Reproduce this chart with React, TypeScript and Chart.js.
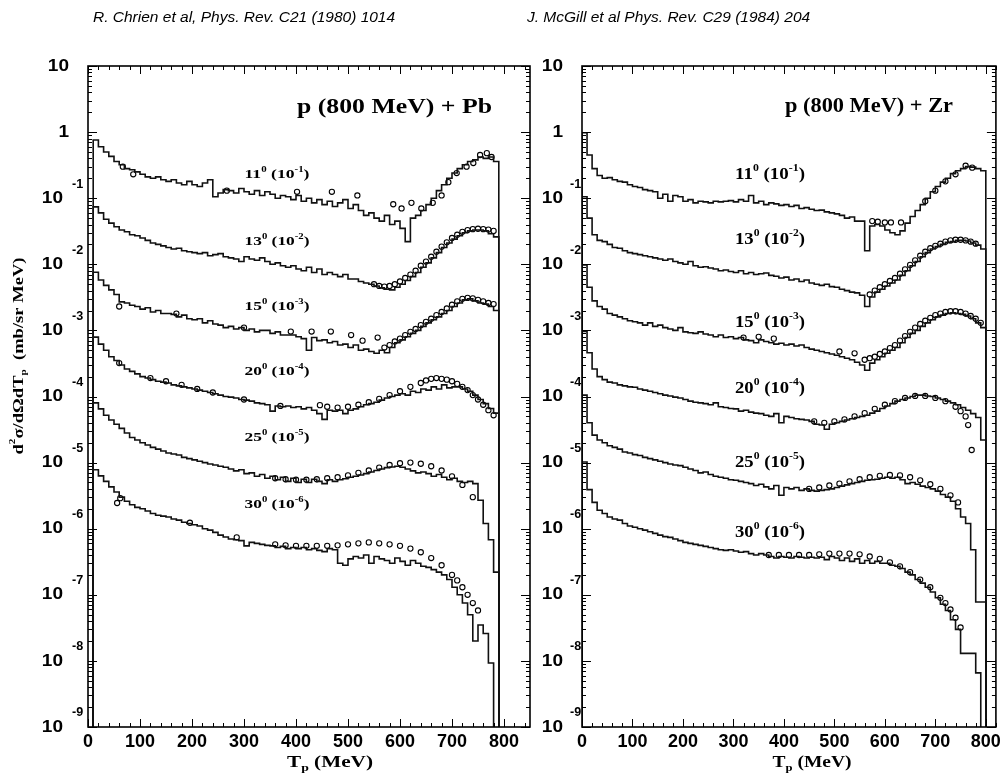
import React, { useEffect, useRef } from "react";
import { Chart, registerables } from "chart.js";
Chart.register(...registerables);

// ---------- data ----------
const ANGLES = ["11", "13", "15", "20", "25", "30"];
const SCALE_EXP = [-1, -2, -3, -4, -5, -6];
const X_MAJOR = [0, 100, 200, 300, 400, 500, 600, 700, 800];
const Y_DECADES = [1, 0, -1, -2, -3, -4, -5, -6, -7, -8, -9];
const BIN_WIDTH = 10;
const FLOOR = 1e-12;

// Pb histograms (unscaled, bins of 10 MeV starting at 10 MeV)
const PB_START = 10;
const PB_11 = [7.6, 6.0, 5.0, 4.3, 3.6, 3.2, 2.8, 2.7, 2.5, 2.3,
  2.1, 2.0, 2.1, 1.9, 1.8, 1.9, 1.7, 1.6, 1.8, 1.6,
  1.5, 1.7, 1.9, 1.05, 1.2, 1.35, 1.3, 1.2, 1.4, 1.25,
  1.15, 1.3, 1.1, 1.25, 1.15, 1.0, 1.1, 1.05, 0.95, 1.1,
  0.9, 1.0, 0.85, 0.95, 0.8, 0.9, 0.75, 0.85, 0.95, 0.7,
  0.8, 0.65, 0.55, 0.6, 0.5, 0.45, 0.55, 0.4, 0.45, 0.35,
  0.22, 0.5, 0.55, 0.65, 0.8, 1.0, 1.3, 1.6, 2.0, 2.4,
  2.8, 3.2, 3.6, 3.8, 4.2, 4.0, 4.2, 3.6];
const PB_13 = [7.4, 6.0, 4.8, 4.2, 3.7, 3.3, 3.1, 2.8, 2.7, 2.5,
  2.3, 2.1, 2.0, 1.9, 1.8, 1.7, 1.75, 1.6, 1.55, 1.5,
  1.45, 1.5, 1.35, 1.4, 1.45, 1.3, 1.25, 1.2, 1.1, 1.3,
  1.2, 1.15, 1.25, 1.1, 1.0, 1.05, 0.95, 0.9, 0.95, 0.85,
  0.8, 0.9, 0.75, 0.85, 0.7, 0.75, 0.7, 0.65, 0.7, 0.6,
  0.6, 0.55, 0.52, 0.5, 0.47, 0.44, 0.42, 0.41, 0.45, 0.5,
  0.57, 0.65, 0.75, 0.9, 1.05, 1.25, 1.5, 1.8, 2.1, 2.4,
  2.7, 3.0, 3.2, 3.3, 3.3, 3.2, 2.9, 2.6];
const PB_15 = [7.6, 5.8, 4.8, 4.1, 3.5, 2.7, 2.6, 2.4, 2.3, 2.1,
  2.2, 1.9, 2.0, 1.8, 1.8, 1.75, 1.6, 1.7, 1.5, 1.45,
  1.5, 1.3, 1.4, 1.25, 1.2, 1.1, 1.15, 1.05, 1.1, 1.0,
  1.05, 0.95, 1.0, 1.0, 0.9, 0.95, 0.85, 0.85, 0.85, 0.8,
  0.75, 0.5, 0.78, 0.7, 0.72, 0.65, 0.68, 0.6, 0.62, 0.55,
  0.6, 0.5, 0.52, 0.48, 0.45, 0.5, 0.46, 0.55, 0.65, 0.72,
  0.8, 0.9, 1.0, 1.15, 1.3, 1.45, 1.6, 1.8, 2.0, 2.3,
  2.6, 2.9, 3.0, 2.8, 2.6, 2.5, 2.3, 2.0];
const PB_20 = [7.9, 6.2, 5.0, 4.0, 3.5, 3.0, 2.6, 2.4, 2.2, 2.0,
  1.9, 1.8, 1.7, 1.65, 1.6, 1.5, 1.45, 1.4, 1.35, 1.3,
  1.25, 1.2, 1.15, 1.1, 1.05, 1.0, 0.98, 0.95, 0.9, 0.88,
  0.85, 0.8, 0.78, 0.75, 0.6, 0.72, 0.7, 0.72, 0.68, 0.7,
  0.65, 0.68, 0.62, 0.55, 0.45, 0.62, 0.6, 0.62, 0.55, 0.62,
  0.65, 0.7, 0.75, 0.78, 0.82, 0.88, 0.95, 1.0, 1.05, 1.1,
  1.05, 1.2, 1.15, 1.3, 1.25, 1.4, 1.3, 1.5, 1.35, 1.4,
  1.4, 1.3, 1.2, 1.05, 0.9, 0.78, 0.66, 0.56];
const PB_25 = [8.0, 6.5, 5.2, 4.4, 3.8, 3.3, 2.8, 2.4, 2.2, 2.0,
  1.85, 1.7, 1.6, 1.5, 1.4, 1.35, 1.3, 1.2, 1.15, 1.1,
  1.05, 1.0, 0.95, 0.92, 0.88, 0.85, 0.8, 0.75, 0.78, 0.68,
  0.7, 0.62, 0.66, 0.58, 0.62, 0.55, 0.6, 0.52, 0.58, 0.5,
  0.56, 0.5, 0.56, 0.52, 0.48, 0.55, 0.52, 0.55, 0.57, 0.6,
  0.62, 0.65, 0.68, 0.72, 0.76, 0.8, 0.84, 0.86, 0.88, 0.85,
  0.8, 0.75, 0.7, 0.72, 0.68, 0.62, 0.66, 0.6, 0.55, 0.58,
  0.52, 0.5, 0.52, 0.48, 0.27, 0.12, 0.068, 0.022];
const PB_30 = [7.8, 6.3, 5.2, 4.3, 3.6, 3.0, 2.6, 2.3, 2.1, 2.0,
  1.85, 1.7, 1.6, 1.55, 1.5, 1.4, 1.35, 1.25, 1.2, 1.15,
  1.1, 1.0, 0.95, 0.88, 0.8, 0.75, 0.7, 0.68, 0.66, 0.55,
  0.62, 0.6, 0.58, 0.56, 0.55, 0.52, 0.54, 0.5, 0.52, 0.5,
  0.52, 0.48, 0.5, 0.47, 0.45, 0.5, 0.48, 0.3, 0.28, 0.35,
  0.38, 0.36, 0.4, 0.3, 0.38, 0.35, 0.33, 0.3, 0.36, 0.32,
  0.28, 0.33, 0.3, 0.27, 0.26, 0.24, 0.22, 0.2, 0.17, 0.13,
  0.1, 0.075, 0.05, 0.02, 0.035, 0.026, 0.0093];

// Pb data points [T_p, unscaled value]
const PB_11_PTS = [[67, 3.0], [87, 2.3], [267, 1.3], [402, 1.25], [469, 1.25], [518, 1.1], [587, 0.81], [603, 0.7], [622, 0.85], [641, 0.7], [663, 0.85], [680, 1.1], [693, 1.75], [709, 2.4], [728, 3.0], [741, 3.4], [754, 4.5], [767, 4.8], [776, 4.2]];
const PB_13_PTS = [[550, 0.5], [560, 0.47], [570, 0.46], [580, 0.47], [590, 0.5], [600, 0.55], [610, 0.62], [620, 0.7], [630, 0.8], [640, 0.95], [650, 1.1], [660, 1.3], [670, 1.55], [680, 1.85], [690, 2.15], [700, 2.5], [710, 2.8], [720, 3.1], [730, 3.3], [740, 3.4], [750, 3.45], [760, 3.4], [770, 3.35], [780, 3.2]];
const PB_15_PTS = [[60, 2.3], [170, 1.8], [300, 1.1], [390, 0.96], [430, 0.96], [467, 0.96], [506, 0.85], [528, 0.7], [557, 0.78], [570, 0.55], [580, 0.6], [590, 0.68], [600, 0.75], [610, 0.85], [620, 0.95], [630, 1.05], [640, 1.2], [650, 1.35], [660, 1.5], [670, 1.7], [680, 1.9], [690, 2.15], [700, 2.45], [710, 2.75], [720, 3.0], [730, 3.1], [740, 3.05], [750, 2.9], [760, 2.75], [770, 2.6], [780, 2.5]];
const PB_20_PTS = [[60, 3.2], [120, 1.9], [150, 1.7], [180, 1.5], [210, 1.3], [240, 1.15], [300, 0.9], [370, 0.72], [446, 0.74], [460, 0.7], [480, 0.68], [500, 0.7], [520, 0.75], [540, 0.82], [560, 0.92], [580, 1.05], [600, 1.2], [620, 1.4], [640, 1.6], [650, 1.75], [660, 1.85], [670, 1.9], [680, 1.85], [690, 1.8], [700, 1.7], [710, 1.55], [720, 1.4], [730, 1.25], [740, 1.05], [750, 0.9], [760, 0.75], [770, 0.62], [780, 0.52]];
const PB_25_PTS = [[360, 0.58], [380, 0.56], [400, 0.55], [420, 0.55], [440, 0.56], [460, 0.58], [480, 0.6], [500, 0.64], [520, 0.7], [540, 0.76], [560, 0.84], [580, 0.92], [600, 0.98], [620, 1.0], [640, 0.96], [660, 0.88], [680, 0.76], [700, 0.62], [720, 0.46], [740, 0.3]];
const PB_30_PTS = [[56, 2.45], [62, 2.9], [196, 1.23], [286, 0.74], [360, 0.58], [380, 0.56], [400, 0.55], [420, 0.55], [440, 0.55], [460, 0.55], [480, 0.56], [500, 0.58], [520, 0.6], [540, 0.62], [560, 0.6], [580, 0.58], [600, 0.55], [620, 0.5], [640, 0.44], [660, 0.36], [680, 0.28], [700, 0.2], [710, 0.165], [720, 0.13], [730, 0.1], [740, 0.075], [750, 0.058]];

// Zr histograms (unscaled, bins of 10 MeV starting at 0 MeV)
const ZR_START = 0;
const ZR_11 = [9.8, 4.5, 2.8, 2.2, 2.0, 2.05, 1.9, 1.8, 1.75, 1.6,
  1.5, 1.45, 1.35, 1.3, 1.25, 1.0, 1.15, 0.9, 1.1, 1.05,
  0.9, 0.95, 0.85, 0.9, 0.88, 0.85, 0.9, 0.88, 0.9, 0.92,
  0.88, 0.95, 0.9, 1.1, 0.85, 0.9, 0.8, 0.85, 0.82, 0.78,
  0.8, 0.75, 0.78, 0.7, 0.72, 0.68, 0.65, 0.66, 0.62, 0.6,
  0.58, 0.55, 0.5, 0.52, 0.45, 0.45, 0.16, 0.38, 0.4, 0.38,
  0.33, 0.3, 0.28, 0.32, 0.42, 0.53, 0.65, 0.8, 1.0, 1.25,
  1.5, 1.75, 2.0, 2.35, 2.6, 2.8, 3.0, 2.95, 2.8, 2.6];
const ZR_13 = [10.5, 5.0, 2.8, 2.3, 2.2, 2.0, 1.8, 1.75, 1.6, 1.5,
  1.45, 1.4, 1.35, 1.3, 1.25, 1.2, 1.15, 1.2, 1.1, 1.05,
  1.0, 1.1, 0.95, 0.9, 0.92, 0.88, 0.85, 0.8, 0.82, 0.78,
  0.75, 0.8, 0.72, 0.75, 0.7, 0.72, 0.74, 0.68, 0.66, 0.62,
  0.64, 0.58, 0.6, 0.55, 0.58, 0.52, 0.5, 0.48, 0.5, 0.46,
  0.45, 0.42, 0.4, 0.38, 0.37, 0.34, 0.23, 0.32, 0.38, 0.42,
  0.47, 0.52, 0.58, 0.68, 0.8, 0.95, 1.1, 1.3, 1.5, 1.7,
  1.85, 2.0, 2.15, 2.2, 2.3, 2.3, 2.25, 2.1, 1.95, 1.7];
const ZR_15 = [9.8, 4.5, 2.8, 2.3, 2.1, 1.8, 1.7, 1.6, 1.5, 1.4,
  1.35, 1.3, 1.2, 1.3, 1.15, 1.2, 1.1, 1.05, 1.0, 1.1,
  0.95, 0.92, 0.9, 0.95, 0.88, 0.85, 0.8, 0.85, 0.78, 0.8,
  0.75, 0.78, 0.72, 0.7, 0.65, 0.72, 0.68, 0.65, 0.62, 0.64,
  0.6, 0.62, 0.58, 0.6, 0.55, 0.52, 0.5, 0.48, 0.46, 0.44,
  0.42, 0.4, 0.38, 0.36, 0.33, 0.3, 0.25, 0.32, 0.36, 0.4,
  0.45, 0.5, 0.55, 0.65, 0.78, 0.9, 1.0, 1.15, 1.3, 1.45,
  1.6, 1.7, 1.8, 1.85, 1.8, 1.75, 1.65, 1.5, 1.3, 1.1];
const ZR_20 = [9.6, 4.6, 2.6, 2.0, 1.8, 1.65, 1.6, 1.5, 1.45, 1.4,
  1.38, 1.3, 1.25, 1.2, 1.15, 1.1, 1.05, 1.02, 0.98, 0.95,
  0.9, 0.85, 0.82, 0.8, 0.78, 0.75, 0.8, 0.7, 0.68, 0.66,
  0.65, 0.6, 0.62, 0.58, 0.56, 0.55, 0.52, 0.5, 0.55, 0.4,
  0.5, 0.48, 0.46, 0.45, 0.44, 0.42, 0.38, 0.37, 0.32, 0.38,
  0.4, 0.42, 0.44, 0.46, 0.48, 0.5, 0.52, 0.56, 0.6, 0.66,
  0.72, 0.78, 0.85, 0.9, 0.95, 1.0, 1.05, 1.05, 1.02, 1.0,
  0.95, 0.9, 0.85, 0.8, 0.75, 0.68, 0.62, 0.55, 0.48, 0.22];
const ZR_25 = [10.5, 4.0, 2.6, 2.2, 2.0, 1.8, 1.7, 1.6, 1.45, 1.4,
  1.32, 1.28, 1.2, 1.15, 1.1, 1.05, 1.0, 0.95, 0.92, 0.9,
  0.85, 0.8, 0.76, 0.7, 0.72, 0.66, 0.62, 0.6, 0.58, 0.55,
  0.54, 0.52, 0.5, 0.48, 0.45, 0.47, 0.43, 0.4, 0.45, 0.32,
  0.42, 0.4, 0.42, 0.38, 0.4, 0.38, 0.37, 0.38, 0.39, 0.4,
  0.42, 0.44, 0.46, 0.48, 0.5, 0.52, 0.54, 0.55, 0.56, 0.58,
  0.6, 0.58, 0.6, 0.55, 0.48, 0.5, 0.47, 0.44, 0.42, 0.4,
  0.37, 0.33, 0.3, 0.26, 0.2, 0.15, 0.12, 0.048, 0.0078, 0.0078];
const ZR_30 = [10.2, 3.9, 2.5, 1.9, 1.7, 1.5, 1.4, 1.35, 1.2, 1.1,
  1.05, 1.0, 0.95, 0.9, 0.85, 0.8, 0.76, 0.74, 0.7, 0.66,
  0.62, 0.6, 0.58, 0.56, 0.54, 0.52, 0.5, 0.48, 0.47, 0.48,
  0.46, 0.44, 0.45, 0.42, 0.4, 0.42, 0.4, 0.38, 0.36, 0.38,
  0.37, 0.36, 0.38, 0.37, 0.36, 0.37, 0.36, 0.37, 0.34, 0.38,
  0.36, 0.33, 0.36, 0.32, 0.35, 0.3, 0.33, 0.3, 0.32, 0.3,
  0.3, 0.28, 0.27, 0.25, 0.22, 0.2, 0.17, 0.15, 0.13, 0.11,
  0.09, 0.072, 0.058, 0.042, 0.03, 0.013, 0.013, 0.013, 0.0066];

// Zr data points [T_p, unscaled value]
const ZR_11_PTS = [[575, 0.45], [586, 0.44], [600, 0.43], [612, 0.43], [632, 0.43], [680, 0.9], [700, 1.3], [720, 1.8], [740, 2.3], [760, 3.1], [773, 2.9]];
const ZR_13_PTS = [[570, 0.35], [580, 0.4], [590, 0.45], [600, 0.5], [610, 0.56], [620, 0.62], [630, 0.72], [640, 0.84], [650, 0.98], [660, 1.15], [670, 1.35], [680, 1.55], [690, 1.75], [700, 1.9], [710, 2.05], [720, 2.2], [730, 2.3], [740, 2.35], [750, 2.35], [760, 2.3], [770, 2.2], [780, 2.05]];
const ZR_15_PTS = [[320, 0.78], [350, 0.8], [380, 0.75], [510, 0.48], [540, 0.45], [560, 0.36], [570, 0.38], [580, 0.4], [590, 0.44], [600, 0.48], [610, 0.54], [620, 0.6], [630, 0.7], [640, 0.82], [650, 0.95], [660, 1.1], [670, 1.25], [680, 1.4], [690, 1.55], [700, 1.7], [710, 1.8], [720, 1.9], [730, 1.95], [740, 1.95], [750, 1.9], [760, 1.8], [770, 1.65], [780, 1.5], [790, 1.3]];
const ZR_20_PTS = [[460, 0.42], [480, 0.4], [500, 0.42], [520, 0.45], [540, 0.5], [560, 0.56], [580, 0.65], [600, 0.75], [620, 0.85], [640, 0.95], [660, 1.02], [680, 1.02], [700, 0.95], [720, 0.85], [740, 0.7], [750, 0.6], [760, 0.5], [765, 0.37], [772, 0.155]];
const ZR_25_PTS = [[450, 0.4], [470, 0.42], [490, 0.45], [510, 0.48], [530, 0.52], [550, 0.56], [570, 0.6], [590, 0.63], [610, 0.65], [630, 0.64], [650, 0.6], [670, 0.54], [690, 0.47], [710, 0.4], [730, 0.32], [745, 0.25]];
const ZR_30_PTS = [[370, 0.4], [390, 0.4], [410, 0.4], [430, 0.4], [450, 0.4], [470, 0.41], [490, 0.42], [510, 0.42], [530, 0.42], [550, 0.41], [570, 0.38], [590, 0.35], [610, 0.31], [630, 0.27], [650, 0.22], [670, 0.17], [690, 0.13], [710, 0.09], [720, 0.075], [730, 0.06], [740, 0.045], [750, 0.032]];

// ---------- helpers ----------
type Seg = { t: string; sup?: boolean; sub?: boolean };

function drawRich(ctx: CanvasRenderingContext2D, segs: Seg[], o: any) {
  const small = Math.round(o.size * 0.62);
  const fontFor = (s: Seg) => `${o.weight || "normal"} ${s.sup || s.sub ? small : o.size}px ${o.family}`;
  let w = 0;
  const widths = segs.map((s) => {
    ctx.font = fontFor(s);
    const m = ctx.measureText(s.t).width;
    w += m;
    return m;
  });
  const sx = o.width ? o.width / w : o.stretch || 1;
  ctx.save();
  ctx.translate(o.x, o.y);
  if (o.rotate) ctx.rotate(o.rotate);
  ctx.scale(sx, 1);
  let cx = o.align === "center" ? -w / 2 : o.align === "right" ? -w : 0;
  ctx.textBaseline = "middle";
  ctx.textAlign = "left";
  ctx.fillStyle = "#000";
  segs.forEach((s, i) => {
    ctx.font = fontFor(s);
    const dy = s.sup ? -o.size * 0.4 : s.sub ? o.size * 0.32 : 0;
    ctx.fillText(s.t, cx, dy);
    cx += widths[i];
  });
  ctx.restore();
}

function histPoints(start: number, vals: number[], exp: number) {
  const s = Math.pow(10, exp);
  const pts = [{ x: start, y: FLOOR }];
  vals.forEach((v, i) => pts.push({ x: start + i * BIN_WIDTH, y: v * s }));
  pts.push({ x: start + vals.length * BIN_WIDTH, y: FLOOR });
  return pts;
}

const SERIF = '"Liberation Serif", "Times New Roman", serif';
const SANS = '"Liberation Sans", Arial, sans-serif';

const PB_CFG = {
  name: "Pb",
  canvasLeft: 0,
  canvasWidth: 540,
  padLeft: 88,
  padRight: 10,
  xMax: 850,
  start: PB_START,
  hists: [PB_11, PB_13, PB_15, PB_20, PB_25, PB_30],
  pts: [PB_11_PTS, PB_13_PTS, PB_15_PTS, PB_20_PTS, PB_25_PTS, PB_30_PTS],
  plainRight: 69,
  expRight: 63,
  expLeft: 72,
  annot: { x: 492, y: 107, size: 22, width: 195 },
  labelCx: 277,
  labelYs: [175, 242, 307, 372, 438, 505],
  labelSize: 13,
  labelWidth: 65,
  xTitle: { cx: 330, width: 86 },
  yTitle: true,
};

const ZR_CFG = {
  name: "Zr",
  canvasLeft: 540,
  canvasWidth: 465,
  padLeft: 42,
  padRight: 7,
  xMax: 820,
  start: ZR_START,
  hists: [ZR_11, ZR_13, ZR_15, ZR_20, ZR_25, ZR_30],
  pts: [ZR_11_PTS, ZR_13_PTS, ZR_15_PTS, ZR_20_PTS, ZR_25_PTS, ZR_30_PTS],
  plainRight: 23,
  expRight: 23,
  expLeft: 30,
  annot: { x: 413, y: 107, size: 20, width: 168 },
  labelCx: 230,
  labelYs: [175, 240, 323, 389, 463, 533],
  labelSize: 16,
  labelWidth: 70,
  xTitle: { cx: 272, width: 79 },
  yTitle: false,
};

function makePlugin(cfg: any) {
  return {
    id: "decor" + cfg.name,
    afterDatasetsDraw(chart: any) {
      const { ctx, chartArea: a, scales } = chart;
      const x = scales.x;
      const y = scales.y;
      ctx.save();
      ctx.strokeStyle = "#000";
      ctx.lineWidth = 1;
      const seg = (x1: number, y1: number, x2: number, y2: number) => {
        ctx.beginPath();
        ctx.moveTo(x1, y1);
        ctx.lineTo(x2, y2);
        ctx.stroke();
      };
      for (let v = 0; v <= cfg.xMax; v += 20) {
        const px = Math.round(x.getPixelForValue(v)) + 0.5;
        const len = v % 100 === 0 ? 8 : 4;
        seg(px, a.bottom, px, a.bottom - len);
        seg(px, a.top, px, a.top + len);
      }
      for (let e = -9; e <= 1; e++) {
        for (let m = 1; m <= 9; m++) {
          const v = m * Math.pow(10, e);
          if (v > 10.0001) break;
          const py = Math.round(y.getPixelForValue(v)) + 0.5;
          const len = m === 1 ? 9 : 4;
          seg(a.left, py, a.left + len, py);
          seg(a.right, py, a.right - len, py);
        }
      }
      ctx.lineWidth = 1.6;
      ctx.strokeRect(a.left, a.top, a.right - a.left, a.bottom - a.top);

      // y tick labels
      Y_DECADES.forEach((d) => {
        const py = y.getPixelForValue(Math.pow(10, d));
        if (d === 1 || d === 0) {
          drawRich(ctx, [{ t: d === 1 ? "10" : "1" }], { size: 17, family: SANS, weight: "bold", x: cfg.plainRight, y: py, align: "right", stretch: 1.12 });
        } else {
          drawRich(ctx, [{ t: "10" }], { size: 17, family: SANS, weight: "bold", x: cfg.expRight, y: py, align: "right", stretch: 1.12 });
          drawRich(ctx, [{ t: String(d) }], { size: 12, family: SANS, weight: "bold", x: cfg.expLeft, y: py - 14, align: "left", stretch: 1.05 });
        }
      });

      // annotation
      drawRich(ctx, [{ t: "p (800 MeV) + " + cfg.name }], { size: cfg.annot.size, family: SERIF, weight: "bold", x: cfg.annot.x, y: cfg.annot.y, align: "right", width: cfg.annot.width });

      // curve labels
      ANGLES.forEach((ang, i) => {
        drawRich(
          ctx,
          [{ t: ang }, { t: "0", sup: true }, { t: " (10" }, { t: String(SCALE_EXP[i]), sup: true }, { t: ")" }],
          { size: cfg.labelSize, family: SERIF, weight: "bold", x: cfg.labelCx, y: cfg.labelYs[i], align: "center", width: cfg.labelWidth }
        );
      });

      // x title
      drawRich(ctx, [{ t: "T" }, { t: "p", sub: true }, { t: " (MeV)" }], { size: 17, family: SERIF, weight: "bold", x: cfg.xTitle.cx, y: 763, align: "center", width: cfg.xTitle.width });

      // y title
      if (cfg.yTitle) {
        drawRich(
          ctx,
          [{ t: "d" }, { t: "2", sup: true }, { t: "σ/dΩdT" }, { t: "p", sub: true }, { t: "  (mb/sr MeV)" }],
          { size: 15, family: SERIF, weight: "bold", x: 19, y: 356, align: "center", width: 197, rotate: -Math.PI / 2 }
        );
      }
      ctx.restore();
    },
  };
}

function Panel({ cfg }: { cfg: any }) {
  const ref = useRef<HTMLCanvasElement>(null);
  useEffect(() => {
    if (!ref.current) return;
    const datasets: any[] = [];
    cfg.hists.forEach((vals: number[], i: number) => {
      datasets.push({
        label: ANGLES[i] + " model",
        data: histPoints(cfg.start, vals, SCALE_EXP[i]),
        stepped: "before",
        borderColor: "#111",
        borderWidth: 1.6,
        pointRadius: 0,
        fill: false,
        tension: 0,
      });
    });
    cfg.pts.forEach((pts: number[][], i: number) => {
      const s = Math.pow(10, SCALE_EXP[i]);
      datasets.push({
        label: ANGLES[i] + " data",
        data: pts.map((p) => ({ x: p[0], y: p[1] * s })),
        showLine: false,
        pointStyle: "circle",
        pointRadius: 2.6,
        pointBorderWidth: 1.1,
        pointBorderColor: "#000",
        pointBackgroundColor: "rgba(255,255,255,0)",
      });
    });
    const chart = new Chart(ref.current, {
      type: "line",
      data: { datasets },
      options: {
        animation: false,
        responsive: false,
        maintainAspectRatio: false,
        events: [],
        layout: { padding: { left: cfg.padLeft, right: cfg.padRight, top: 66, bottom: 0 } },
        plugins: { legend: { display: false }, tooltip: { enabled: false }, title: { display: false } },
        scales: {
          x: {
            type: "linear",
            min: 0,
            max: cfg.xMax,
            afterBuildTicks: (s: any) => {
              s.ticks = X_MAJOR.map((v) => ({ value: v }));
            },
            afterFit: (s: any) => {
              s.height = 52;
            },
            ticks: {
              autoSkip: false,
              maxRotation: 0,
              padding: 4,
              color: "#000",
              font: { family: SANS, weight: "bold", size: 18 },
              callback: (v: any) => String(v),
            },
            grid: { display: false, drawTicks: false },
            border: { display: false },
          },
          y: {
            type: "logarithmic",
            min: 1e-9,
            max: 10,
            display: false,
          },
        },
      },
      plugins: [makePlugin(cfg)],
    } as any);
    return () => chart.destroy();
  }, [cfg]);
  return (
    <canvas
      ref={ref}
      width={cfg.canvasWidth}
      height={779}
      style={{ position: "absolute", left: cfg.canvasLeft, top: 0, width: cfg.canvasWidth, height: 779 }}
    />
  );
}

export default function App() {
  const titleStyle: any = {
    position: "absolute",
    top: 8,
    font: 'italic 15.5px "Liberation Sans", Arial, sans-serif',
    lineHeight: "18px",
    whiteSpace: "nowrap",
    color: "#000",
  };
  return (
    <div style={{ position: "fixed", left: 0, top: 0, width: 1005, height: 779, background: "#fff", overflow: "hidden" }}>
      <Panel cfg={PB_CFG} />
      <Panel cfg={ZR_CFG} />
      <div style={{ ...titleStyle, left: 93 }}>R. Chrien et al, Phys. Rev. C21 (1980) 1014</div>
      <div style={{ ...titleStyle, left: 527 }}>J. McGill et al Phys. Rev. C29 (1984) 204</div>
    </div>
  );
}
